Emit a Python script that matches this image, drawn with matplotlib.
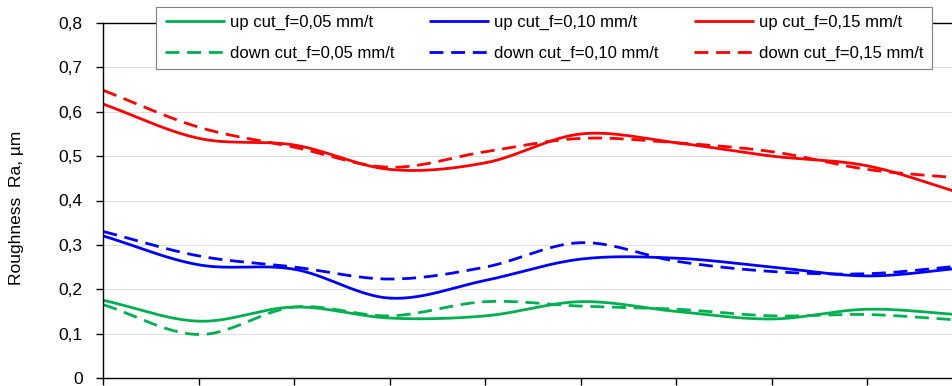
import numpy as np
import matplotlib
matplotlib.use("Agg")
import matplotlib.pyplot as plt
from matplotlib.ticker import FixedLocator

plt.rcParams['font.family'] = ['Liberation Sans', 'DejaVu Sans']

# cutting passes (category positions on the x axis)
passes = np.arange(10)

# Ra readings, um
up_005 = [0.175, 0.128, 0.160, 0.135, 0.140, 0.172, 0.150, 0.133, 0.155, 0.142]
down_005 = [0.165, 0.098, 0.160, 0.140, 0.172, 0.162, 0.155, 0.140, 0.143, 0.130]
up_010 = [0.320, 0.255, 0.245, 0.180, 0.220, 0.268, 0.270, 0.250, 0.230, 0.248]
down_010 = [0.330, 0.275, 0.250, 0.223, 0.250, 0.305, 0.263, 0.240, 0.235, 0.253]
up_015 = [0.617, 0.540, 0.525, 0.470, 0.485, 0.550, 0.530, 0.500, 0.478, 0.415]
down_015 = [0.648, 0.565, 0.520, 0.475, 0.510, 0.540, 0.530, 0.510, 0.470, 0.450]

y_ticks = [0, 0.1, 0.2, 0.3, 0.4, 0.5, 0.6, 0.7, 0.8]
y_tick_labels = ['0', '0,1', '0,2', '0,3', '0,4', '0,5', '0,6', '0,7', '0,8']


def smooth(x, y, n=30):
    # Excel-like smoothed line (Catmull-Rom through the points)
    x = np.asarray(x, float)
    y = np.asarray(y, float)
    px = np.concatenate([[2 * x[0] - x[1]], x, [2 * x[-1] - x[-2]]])
    py = np.concatenate([[2 * y[0] - y[1]], y, [2 * y[-1] - y[-2]]])
    xs, ys = [], []
    t = np.linspace(0, 1, n)
    for i in range(1, len(px) - 2):
        for p, out in ((px, xs), (py, ys)):
            p0, p1, p2, p3 = p[i - 1], p[i], p[i + 1], p[i + 2]
            out.extend(0.5 * ((2 * p1) + (-p0 + p2) * t
                              + (2 * p0 - 5 * p1 + 4 * p2 - p3) * t ** 2
                              + (-p0 + 3 * p1 - 3 * p2 + p3) * t ** 3))
    return xs, ys


green = '#00B050'
blue = '#0000FF'
red = '#FF0000'
lw = 2.0
dash = (5.0, 2.8)

series = [
    (up_005, green, '-', 'up cut_f=0,05 mm/t'),
    (down_005, green, '--', 'down cut_f=0,05 mm/t'),
    (up_010, blue, '-', 'up cut_f=0,10 mm/t'),
    (down_010, blue, '--', 'down cut_f=0,10 mm/t'),
    (up_015, red, '-', 'up cut_f=0,15 mm/t'),
    (down_015, red, '--', 'down cut_f=0,15 mm/t'),
]

W, H = 953, 386
left_px, right_px = 103.5, 975      # plot area runs past the right image edge
fig = plt.figure(figsize=(W / 100, H / 100), dpi=100)
ax = fig.add_axes([left_px / W, 8 / H, (right_px - left_px) / W, 355 / H])

for vals, col, ls, lab in series:
    xs, ys = smooth(passes, vals)
    line, = ax.plot(xs, ys, color=col, lw=lw, label=lab, solid_capstyle='butt')
    if ls == '--':
        line.set_dashes(dash)

ax.set_xlim(0, (right_px - left_px) / 95.5)
ax.set_ylim(0, 0.8)
ax.xaxis.set_major_locator(FixedLocator(passes))
ax.set_xticklabels([])
ax.set_yticks(y_ticks)
ax.set_yticklabels(y_tick_labels, fontsize=12.5)
ax.tick_params(axis='both', direction='out', length=5, width=1, color='black')
ax.tick_params(axis='y', pad=10)
ax.grid(axis='y', color='#d9d9d9', lw=0.6)
ax.set_axisbelow(True)
for s in ax.spines.values():
    s.set_color('black')
    s.set_linewidth(1)

ax.set_ylabel('Roughness  Ra, \u00b5m', fontsize=12.5)
ax.yaxis.set_label_coords(-(left_px - 24) / (right_px - left_px), 0.48)

leg = ax.legend(ncol=3, loc='upper center', bbox_to_anchor=(544 / W, 1 - 7 / H),
                bbox_transform=fig.transFigure, fontsize=12, frameon=True,
                fancybox=False, edgecolor='#808080', framealpha=1,
                handlelength=3.6, columnspacing=2.1, handletextpad=0.3,
                borderpad=0.5, borderaxespad=0, labelspacing=0.9)
leg.get_frame().set_linewidth(0.8)

fig.savefig('out.png', dpi=100)
